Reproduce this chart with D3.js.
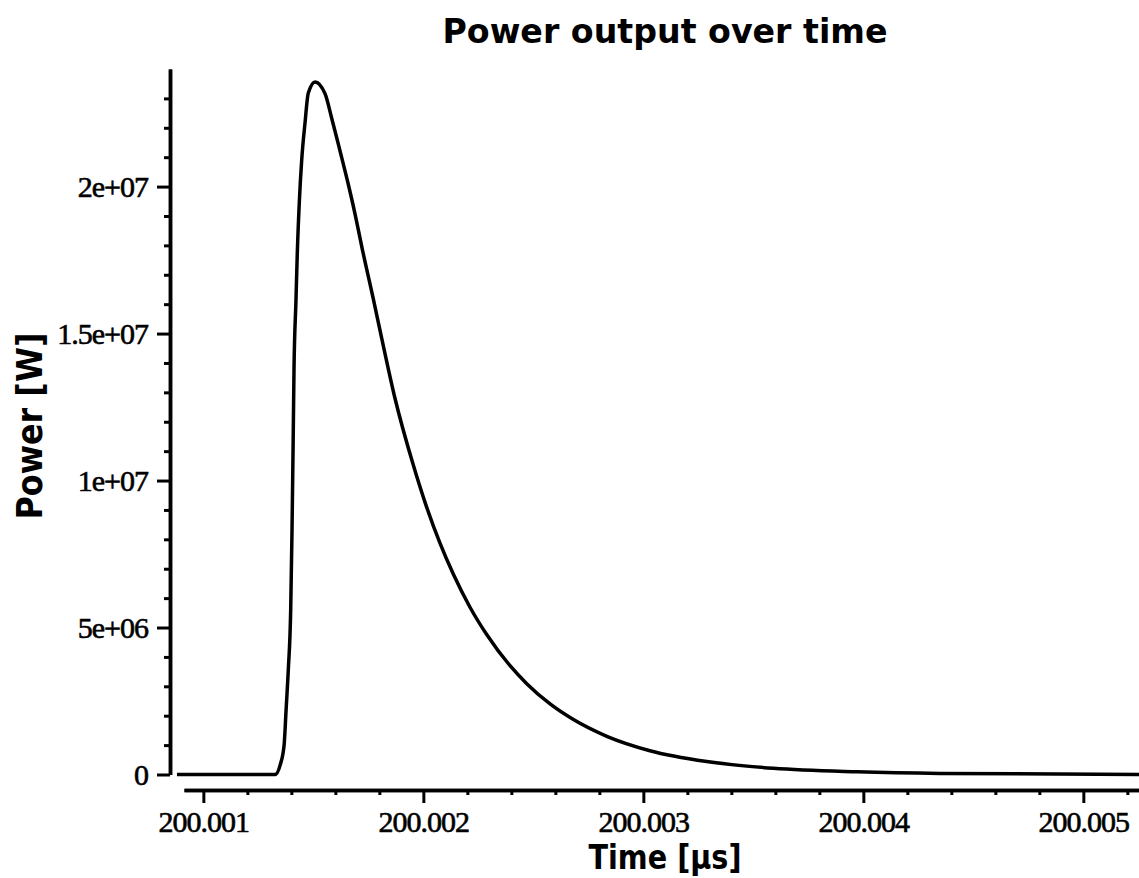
<!DOCTYPE html>
<html>
<head>
<meta charset="utf-8">
<script src="https://d3js.org/d3.v7.min.js"></script>
<style>
  body { margin: 0; background: #fff; }
  svg { display: block; }
</style>
</head>
<body>
<div id="chart-container"></div>
<script>
// time in microseconds and power in watts
const timeUs = [
  200.000880, 200.001326, 200.001349, 200.001367, 200.001376, 200.001386,
  200.001397, 200.001403, 200.001408, 200.001412, 200.001421, 200.001427,
  200.001436, 200.001447, 200.001462, 200.001477, 200.001508, 200.001553,
  200.001584, 200.001621, 200.001659, 200.001690, 200.001720, 200.001773,
  200.001811, 200.001871, 200.001955, 200.002008, 200.002076, 200.002136,
  200.002212, 200.002288, 200.002394, 200.002470, 200.002576, 200.002682,
  200.002834, 200.003030, 200.003288, 200.003591, 200.003970, 200.004349,
  200.005253
];
const powerW = [
  0, 0, 0.32e6, 1.00e6, 2.19e6, 3.55e6,
  5.60e6, 8.32e6, 11.21e6, 13.76e6, 16.14e6, 17.74e6,
  19.44e6, 20.90e6, 22.16e6, 23.18e6, 23.56e6, 23.16e6,
  22.31e6, 21.22e6, 20.07e6, 19.05e6, 17.96e6, 16.16e6,
  14.83e6, 12.80e6, 10.51e6, 9.25e6, 7.86e6, 6.82e6,
  5.69e6, 4.76e6, 3.70e6, 3.09e6, 2.40e6, 1.87e6,
  1.30e6, 0.81e6, 0.44e6, 0.21e6, 0.09e6, 0.036e6,
  0.004e6
];
const xTickValues = [200.001, 200.002, 200.003, 200.004, 200.005];
const xTickLabels = ["200.001", "200.002", "200.003", "200.004", "200.005"];
const yTickValues = [0, 5e6, 1e7, 1.5e7, 2e7];
const yTickLabels = ["0", "5e+06", "1e+07", "1.5e+07", "2e+07"];

const width = 1139;
const height = 878;

const data = timeUs.map((t, i) => ({ t: t, p: powerW[i] }));

const svg = d3.select("#chart-container")
  .append("svg")
    .attr("width", width)
    .attr("height", height);

const x = d3.scaleLinear()
  .domain([200.000912, 200.005253])
  .range([184, 1139]);

const y = d3.scaleLinear()
  .domain([0, 2.4e7])
  .range([774.5, 69]);

// minor ticks (every 0.0002 us / 1e6 W)
const xMinor = d3.range(1, 22).filter(i => i % 5 !== 0).map(i => 200.001 + i * 0.0002);
const yMinor = d3.range(1, 24).filter(i => i % 5 !== 0).map(i => i * 1e6);

function styleAxis(g) {
  g.select(".domain").attr("stroke", "#000").attr("stroke-width", 3.5);
  g.selectAll(".tick line").attr("stroke", "#000").attr("stroke-width", 3);
  g.selectAll(".tick text")
    .attr("fill", "#000")
    .attr("stroke", "#000")
    .attr("stroke-width", 0.6)
    .style("font-family", "'Liberation Serif', 'DejaVu Serif', serif")
    .style("font-size", "30px")
    .style("letter-spacing", "-1px");
}

// X axis
svg.append("g")
  .attr("transform", "translate(0,790)")
  .call(d3.axisBottom(x).tickValues(xMinor).tickFormat("").tickSize(5).tickSizeOuter(0))
  .call(styleAxis);
svg.append("g")
  .attr("transform", "translate(0,790)")
  .call(d3.axisBottom(x)
    .tickValues(xTickValues)
    .tickFormat((d, i) => xTickLabels[i])
    .tickSize(13)
    .tickPadding(8)
    .tickSizeOuter(0))
  .call(styleAxis);

// Y axis
svg.append("g")
  .attr("transform", "translate(170,0)")
  .call(d3.axisLeft(y).tickValues(yMinor).tickFormat("").tickSize(6).tickSizeOuter(0))
  .call(styleAxis);
svg.append("g")
  .attr("transform", "translate(170,0)")
  .call(d3.axisLeft(y)
    .tickValues(yTickValues)
    .tickFormat((d, i) => yTickLabels[i])
    .tickSize(13)
    .tickPadding(9)
    .tickSizeOuter(0))
  .call(styleAxis);

// Power curve
const line = d3.line()
  .x(d => x(d.t))
  .y(d => y(d.p))
  .curve(d3.curveMonotoneX);

svg.append("path")
  .datum(data)
  .attr("fill", "none")
  .attr("stroke", "#000")
  .attr("stroke-width", 3.5)
  .attr("stroke-linejoin", "round")
  .attr("d", line);

// Titles
const boldFont = "'DejaVu Sans', Verdana, sans-serif";

svg.append("text")
  .attr("x", 665)
  .attr("y", 43)
  .attr("text-anchor", "middle")
  .attr("textLength", 445)
  .attr("lengthAdjust", "spacingAndGlyphs")
  .style("font-family", boldFont)
  .style("font-weight", "bold")
  .style("font-size", "33px")
  .text("Power output over time");

svg.append("text")
  .attr("x", 665)
  .attr("y", 869)
  .attr("text-anchor", "middle")
  .attr("textLength", 153)
  .attr("lengthAdjust", "spacingAndGlyphs")
  .style("font-family", boldFont)
  .style("font-weight", "bold")
  .style("font-size", "33px")
  .text("Time [µs]");

svg.append("text")
  .attr("transform", "translate(42,426) rotate(-90)")
  .attr("text-anchor", "middle")
  .attr("textLength", 187)
  .attr("lengthAdjust", "spacingAndGlyphs")
  .style("font-family", boldFont)
  .style("font-weight", "bold")
  .style("font-size", "35px")
  .text("Power [W]");
</script>
</body>
</html>
